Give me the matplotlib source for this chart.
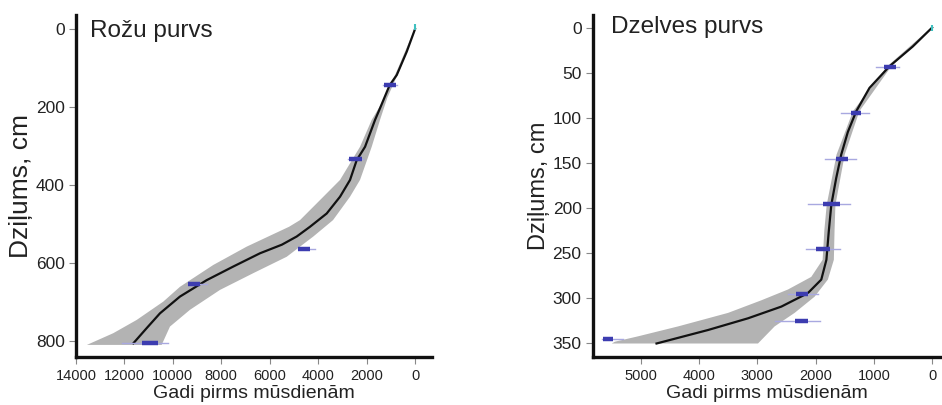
import matplotlib
matplotlib.use("Agg")
import matplotlib.pyplot as plt
from matplotlib import font_manager as fm

# ---------------- data: Rožu purvs ----------------
r_depth = [0, 58, 118, 144, 203, 233, 302, 336, 387, 430, 473, 507, 532, 553, 575, 609, 644, 686, 729, 767, 806]
r_age   = [0, 343, 756, 1050, 1446, 1652, 2065, 2408, 2685, 3098, 3648, 4337, 4886, 5500, 6402, 7505, 8606, 9707, 10533, 11082, 11635]
r_old_depth = [0, 100, 177, 233, 302, 387, 430, 490, 507, 558, 605, 661, 699, 746, 780, 810]
r_old_age   = [20, 700, 1250, 1790, 2272, 3098, 3786, 4750, 5200, 6952, 8331, 9707, 10396, 11495, 12462, 13550]
r_young_depth = [0, 100, 177, 233, 302, 387, 430, 490, 532, 584, 626, 669, 720, 763, 810]
r_young_age   = [0, 600, 1150, 1446, 1790, 2272, 2685, 3387, 4200, 5300, 6679, 8055, 9294, 10120, 10463]
r_date_depth = [-4, 144, 333, 565, 655, 804]
r_date_lo    = [0, 756, 2135, 4130, 8606, 10190]
r_date_hi    = [0, 1309, 2755, 4820, 9364, 12115]
r_core_lo    = [0, 800, 2180, 4337, 8880, 10603]
r_core_hi    = [0, 1280, 2720, 4820, 9364, 11290]

# ---------------- data: Dzelves purvs ----------------
d_depth = [0, 21, 43, 67, 93, 116, 141, 167, 197, 227, 258, 280, 295, 310, 323, 336, 351]
d_age   = [0, 332, 732, 1075, 1303, 1447, 1560, 1646, 1731, 1775, 1815, 1903, 2133, 2589, 3161, 3847, 4732]
d_old_depth = [0, 43, 93, 141, 197, 225, 258, 277, 291, 303, 317, 332, 343, 349, 351]
d_old_age   = [15, 770, 1360, 1640, 1810, 1850, 1880, 2075, 2475, 2932, 3504, 4361, 5047, 5446, 5500]
d_young_depth = [0, 43, 93, 141, 197, 225, 258, 280, 299, 317, 332, 351]
d_young_age   = [0, 700, 1250, 1500, 1660, 1675, 1687, 1790, 2018, 2361, 2704, 2990]
d_date_depth = [0, 44, 95, 146, 196, 246, 296, 326, 346]
d_date_lo    = [0, 561, 1075, 1303, 1418, 1590, 1961, 1932, 5304]
d_date_hi    = [0, 960, 1560, 1846, 2133, 2160, 2475, 2704, 5676]
d_core_lo    = [0, 617, 1217, 1447, 1589, 1760, 2133, 2133, 5476]
d_core_hi    = [0, 818, 1389, 1646, 1875, 1989, 2332, 2361, 5647]

r_yticks = [0, 200, 400, 600, 800]
r_xticks = [14000, 12000, 10000, 8000, 6000, 4000, 2000, 0]
d_yticks = [0, 50, 100, 150, 200, 250, 300, 350]
d_xticks = [5000, 4000, 3000, 2000, 1000, 0]

names = {f.name for f in fm.fontManager.ttflist}
base = 'Liberation Sans' if 'Liberation Sans' in names else 'DejaVu Sans'
narrow = 'Liberation Sans Narrow' if 'Liberation Sans Narrow' in names else base
plt.rcParams['font.family'] = [base, 'DejaVu Sans']

fig = plt.figure(figsize=(9.42, 4.05), dpi=100)
ax1 = fig.add_axes([76/942, 1-357/405, (432-76)/942, 342/405])
ax2 = fig.add_axes([592.7/942, 1-357/405, (942-592.7)/942, 342/405])

GREY = '#b3b3b3'
DARKB = '#3c3cb0'
LIGHTB = '#a8a8e0'


def panel(ax, depth, age, od, oa, yd, ya, dd, dlo, dhi, clo, chi, xlim, ylim,
          xt, yt, title, tx, ty, ylab_size, xtick_size):
    ax.fill(list(oa) + list(ya)[::-1], list(od) + list(yd)[::-1],
            color=GREY, lw=0, zorder=1)
    ax.plot(age, depth, color='#111111', lw=1.6, zorder=3,
            solid_joinstyle='round')
    for i in range(len(dd)):
        if i == 0:
            ax.plot([dlo[i]], [dd[i]], marker='|', color='#40c0c0', ms=5, mew=1.5, zorder=4)
            continue
        ax.plot([dlo[i], dhi[i]], [dd[i], dd[i]], color=LIGHTB, lw=1.0, zorder=4)
        ax.plot([clo[i], chi[i]], [dd[i], dd[i]], color=DARKB, lw=3.2,
                solid_capstyle='butt', zorder=5)
    ax.set_xlim(*xlim)
    ax.set_ylim(*ylim)
    ax.set_xticks(xt)
    ax.set_yticks(yt)
    ax.set_xticklabels([str(v) for v in xt], fontsize=xtick_size, family=[narrow, base])
    ax.set_yticklabels([str(v) for v in yt], fontsize=12.5)
    for s in ['top', 'right']:
        ax.spines[s].set_visible(False)
    for s in ['left', 'bottom']:
        ax.spines[s].set_linewidth(2.4)
        ax.spines[s].set_color('#111111')
    ax.tick_params(axis='both', direction='out', length=5, width=0.8,
                   colors='#888888', labelcolor='#222222')
    ax.tick_params(axis='x', pad=4)
    ax.tick_params(axis='y', pad=3)
    ax.set_xlabel('Gadi pirms mūsdienām', fontsize=14, color='#222222', labelpad=1)
    ax.set_ylabel('Dziļums, cm', fontsize=ylab_size, color='#222222', labelpad=2)
    ax.text(tx, ty, title, transform=ax.transAxes, fontsize=17.5, color='#222222',
            ha='left', va='baseline')
    ax.set_facecolor('white')


panel(ax1, r_depth, r_age, r_old_depth, r_old_age, r_young_depth, r_young_age,
      r_date_depth, r_date_lo, r_date_hi, r_core_lo, r_core_hi,
      (14000, -700), (841, -36), r_xticks, r_yticks, 'Rožu purvs', 0.039, 0.936, 19, 10.5)
panel(ax2, d_depth, d_age, d_old_depth, d_old_age, d_young_depth, d_young_age,
      d_date_depth, d_date_lo, d_date_hi, d_core_lo, d_core_hi,
      (5828, -170), (366, -14), d_xticks, d_yticks, 'Dzelves purvs', 0.052, 0.947, 17, 10.5)

fig.savefig('out.png', dpi=100)
